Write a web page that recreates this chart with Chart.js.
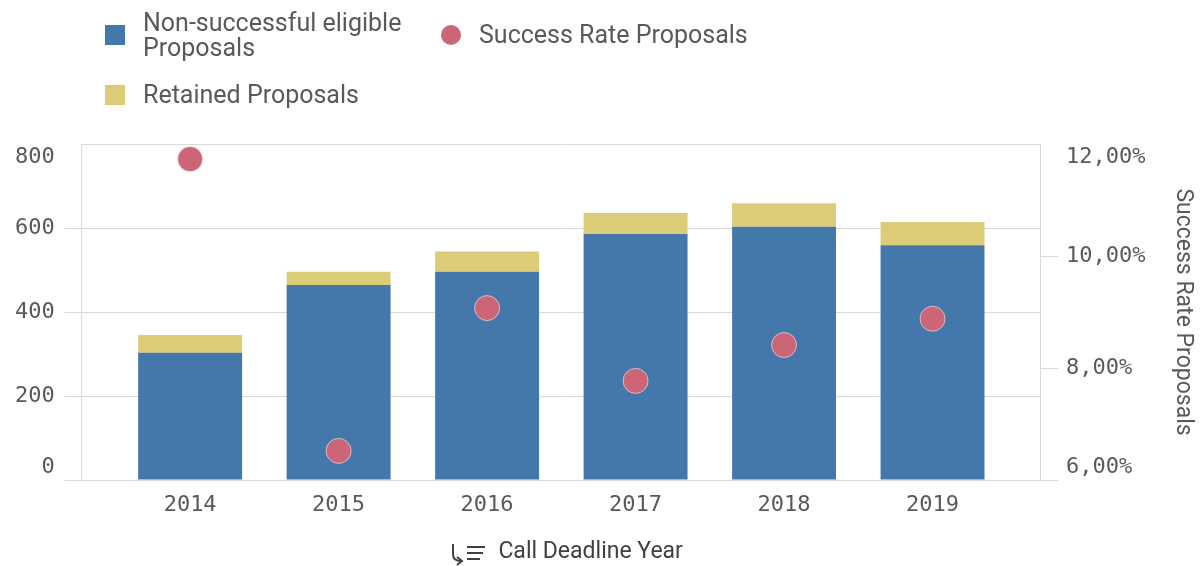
<!DOCTYPE html>
<html>
<head>
<meta charset="utf-8">
<script src="https://cdn.jsdelivr.net/npm/chart.js@4.4.1/dist/chart.umd.min.js"></script>
<style>
    body { margin: 0; background: #fff; }
    #wrap { position: relative; width: 1200px; height: 566px; }
    #chart { position: absolute; left: 0; top: 0; }
    .legend { position: absolute; font-family: Roboto, sans-serif; font-size: 25px; color: #595959; line-height: 25px; }
    .legend .item { position: absolute; white-space: nowrap; }
    .legend .swatch { position: absolute; width: 20px; height: 20px; }
</style>
</head>
<body>
<div id="wrap">
    <canvas id="chart" width="1200" height="566"></canvas>
    <div class="legend" id="legend"></div>
</div>
<script>
// data
const years = ['2014', '2015', '2016', '2017', '2018', '2019'];
const nonSuccessful = [303, 464, 496, 586, 603, 559];
const retained = [42, 32, 48, 50, 56, 55];
const successRate = [11.73, 6.52, 9.07, 7.77, 8.41, 8.88];
const countTicks = [0, 200, 400, 600, 800];
const rateTicks = [6, 8, 10, 12];

const BLUE = '#4477aa';
const YELLOW = '#ddcc77';
const RED = '#cc6677';
const GRID = '#d9d9d9';
const TEXT = '#595959';
const mono = { family: 'DejaVu Sans Mono', size: 22 };

const asPoints = arr => arr.map((v, i) => ({ x: i, y: v }));

// Qlik keeps the end labels inside the axis, push them with an empty line
const edgeLabel = (text, value, min, max) => {
    if (value === max) return ['', text];
    if (value === min) return [text, ''];
    return text;
};
const hideEdgeTick = max => ctx => (ctx.tick && ctx.tick.value === max) ? 'rgba(0,0,0,0)' : GRID;

// little sort icon in front of the x title
const sortIcon = {
    id: 'sortIcon',
    afterDraw(chart) {
        const ctx = chart.ctx;
        const x = 453, y = 544;
        ctx.save();
        ctx.strokeStyle = '#404040';
        ctx.lineWidth = 2;
        ctx.beginPath();
        ctx.moveTo(x, y);
        ctx.lineTo(x, y + 10);
        ctx.quadraticCurveTo(x, y + 17, x + 8, y + 17);
        ctx.stroke();
        ctx.beginPath();
        ctx.moveTo(x + 4, y + 13);
        ctx.lineTo(x + 9, y + 17);
        ctx.lineTo(x + 4, y + 21);
        ctx.stroke();
        ctx.beginPath();
        ctx.moveTo(x + 14, y + 3); ctx.lineTo(x + 32, y + 3);
        ctx.moveTo(x + 14, y + 9); ctx.lineTo(x + 30, y + 9);
        ctx.moveTo(x + 14, y + 15); ctx.lineTo(x + 27, y + 15);
        ctx.stroke();
        ctx.restore();
    }
};

const chart = new Chart(document.getElementById('chart'), {
    type: 'bar',
    data: {
        datasets: [{
            type: 'line',
            label: 'Success Rate Proposals',
            data: asPoints(successRate),
            yAxisID: 'y1',
            showLine: false,
            pointRadius: 12.5,
            pointHoverRadius: 12.5,
            backgroundColor: RED,
            borderColor: 'rgba(255,255,255,0.55)',
            pointBorderWidth: 1,
            order: 0
        }, {
            label: 'Non-successful eligible Proposals',
            data: asPoints(nonSuccessful),
            backgroundColor: BLUE,
            yAxisID: 'y',
            order: 1
        }, {
            label: 'Retained Proposals',
            data: asPoints(retained),
            backgroundColor: YELLOW,
            yAxisID: 'y',
            order: 1
        }]
    },
    options: {
        responsive: false,
        animation: false,
        barPercentage: 1,
        categoryPercentage: 0.7,
        layout: { padding: { top: 144, left: 5, right: 0, bottom: 0 } },
        plugins: { legend: { display: false }, tooltip: { enabled: false } },
        scales: {
            x: {
                type: 'linear',
                stacked: true,
                offset: false,
                min: -0.73,
                max: 5.73,
                afterBuildTicks: scale => { scale.ticks = years.map((y, i) => ({ value: i })); },
                ticks: { color: TEXT, font: mono, padding: 12, callback: v => years[v] },
                grid: { display: false, drawTicks: false },
                border: { display: true, color: GRID },
                title: {
                    display: true,
                    text: '\u2003\u2003\u2002Call Deadline Year',
                    color: '#404040',
                    font: { family: 'Roboto', size: 23 },
                    padding: { top: 8, bottom: 0 }
                }
            },
            y: {
                stacked: true,
                min: 0,
                max: 800,
                afterBuildTicks: scale => { scale.ticks = countTicks.map(v => ({ value: v })); },
                ticks: {
                    color: TEXT, font: mono, padding: 10,
                    callback: v => edgeLabel(String(v), v, 0, 800)
                },
                grid: { color: GRID, tickLength: 17, tickColor: hideEdgeTick(800) },
                border: { display: true, color: GRID }
            },
            y1: {
                position: 'right',
                min: 6,
                max: 12,
                afterBuildTicks: scale => { scale.ticks = rateTicks.map(v => ({ value: v })); },
                ticks: {
                    color: TEXT, font: mono, padding: 8,
                    callback: v => edgeLabel(v.toFixed(2).replace('.', ',') + '%', v, 6, 12)
                },
                grid: { drawOnChartArea: false, tickLength: 17, tickColor: hideEdgeTick(12) },
                border: { display: true, color: GRID },
                title: {
                    display: true,
                    text: 'Success Rate Proposals',
                    color: TEXT,
                    font: { family: 'Roboto', size: 23 },
                    padding: { top: 3, bottom: 16 }
                }
            }
        }
    },
    plugins: [sortIcon]
});

// html legend so the first label can wrap like the original
const legendSpots = [
    { ds: 1, left: 105, top: 10, text: ['Non-successful eligible', 'Proposals'], shape: 'square' },
    { ds: 0, left: 441, top: 22, text: ['Success Rate Proposals'], shape: 'circle' },
    { ds: 2, left: 105, top: 82, text: ['Retained Proposals'], shape: 'square' }
];
const legend = document.getElementById('legend');
legendSpots.forEach(s => {
    const color = chart.data.datasets[s.ds].backgroundColor;
    const item = document.createElement('div');
    item.className = 'item';
    item.style.left = s.left + 'px';
    item.style.top = s.top + 'px';
    const sw = document.createElement('div');
    sw.className = 'swatch';
    sw.style.background = color;
    sw.style.left = '0px';
    sw.style.top = (s.text.length * 25 / 2 - 10) + 'px';
    if (s.shape === 'circle') sw.style.borderRadius = '50%';
    const label = document.createElement('div');
    label.style.marginLeft = '38px';
    label.innerHTML = s.text.join('<br>');
    item.appendChild(sw);
    item.appendChild(label);
    legend.appendChild(item);
});
</script>
</body>
</html>
